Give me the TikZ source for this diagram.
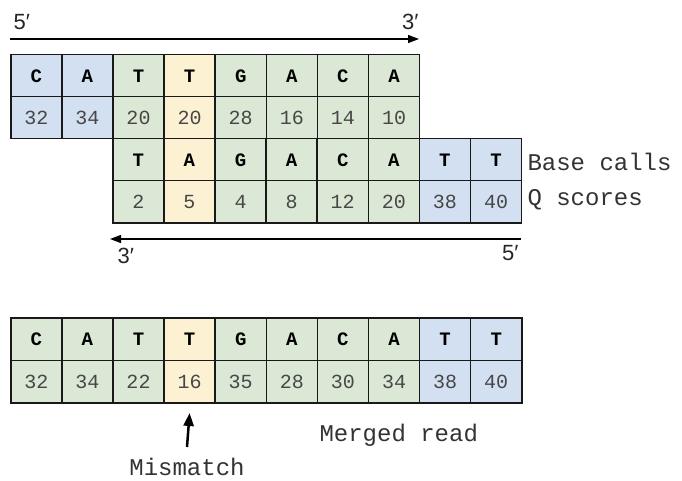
\documentclass[tikz,border=0pt]{standalone}
\usepackage{fontspec}
\setmonofont{Liberation Mono}
\setsansfont{Liberation Sans}
\usetikzlibrary{arrows.meta}
\definecolor{cblue}{HTML}{D2E0F1}
\definecolor{cgreen}{HTML}{DBE8D5}
\definecolor{cyel}{HTML}{FCF1D2}
\tikzset{
  cellbox/.style={draw=black!90, line width=1.5pt, minimum width=51.1pt, minimum height=42pt, inner sep=0pt, anchor=north west},
  basetxt/.style={font=\ttfamily\bfseries\fontsize{19}{19}\selectfont},
  qtxt/.style={font=\ttfamily\fontsize{20}{20}\selectfont, text=black!72},
  labtxt/.style={font=\ttfamily\fontsize{24}{24}\selectfont, text=black!80},
  endtxt/.style={font=\sffamily\fontsize{22}{22}\selectfont, text=black!85},
  strand/.style={line width=1.3pt, -{Triangle[length=11pt,width=8pt]}},
}
\begin{document}
\begin{tikzpicture}[x=1pt,y=-1pt]
\useasboundingbox (0,0) rectangle (682,481);
% top read
\foreach \b/\q/\c [count=\i] in {C/32/cblue,A/34/cblue,T/20/cgreen,T/20/cyel,G/28/cgreen,A/16/cgreen,C/14/cgreen,A/10/cgreen}{
  \node[cellbox, fill=\c, basetxt] (ta\i) at ({10+(\i-1)*51.1},54) {\b};
  \node[cellbox, fill=\c, qtxt] (tq\i) at ({10+(\i-1)*51.1},96) {\q};
}
% second read
\foreach \b/\q/\c [count=\i] in {T/2/cgreen,A/5/cyel,G/4/cgreen,A/8/cgreen,C/12/cgreen,A/20/cgreen,T/38/cblue,T/40/cblue}{
  \node[cellbox, fill=\c, basetxt] (sa\i) at ({112+(\i-1)*51.1},138) {\b};
  \node[cellbox, fill=\c, qtxt] (sq\i) at ({112+(\i-1)*51.1},180) {\q};
}
% merged read
\foreach \b/\q/\c [count=\i] in {C/32/cgreen,A/34/cgreen,T/22/cgreen,T/16/cyel,G/35/cgreen,A/28/cgreen,C/30/cgreen,A/34/cgreen,T/38/cblue,T/40/cblue}{
  \node[cellbox, fill=\c, basetxt, minimum height=42.5pt] (ma\i) at ({10+(\i-1)*51.1},317) {\b};
  \node[cellbox, fill=\c, qtxt, minimum height=42.5pt] (mq\i) at ({10+(\i-1)*51.1},359.5) {\q};
}
% strand arrows
\coordinate (ts) at (10,39);
\coordinate (te) at (419,39);
\draw[strand] (ts) -- (te);
\node[endtxt, anchor=south west] (t5) at (10,33) {5′};
\node[endtxt, anchor=south east] (t3) at (422,33) {3′};
\coordinate (bs) at (521,239);
\coordinate (be) at (110,239);
\draw[strand] (bs) -- (be);
\node[endtxt, anchor=north west] (b3) at (114,245) {3′};
\node[endtxt, anchor=north east] (b5) at (522,242) {5′};
% labels
\node[labtxt, anchor=west] (bc) at (524,162) {Base calls};
\node[labtxt, anchor=west] (qs) at (524,200) {Q scores};
\node[labtxt, anchor=west] (mr) at (316,435) {Merged read};
\node[labtxt, anchor=north] (mm) at (187,455) {Mismatch};
\coordinate (mmtop) at (187,447);
\draw[line width=2.5pt, -{Triangle[length=13pt,width=10pt]}] (mmtop) -- ([yshift=-9.5pt]mq4.south);
\end{tikzpicture}
\end{document}
